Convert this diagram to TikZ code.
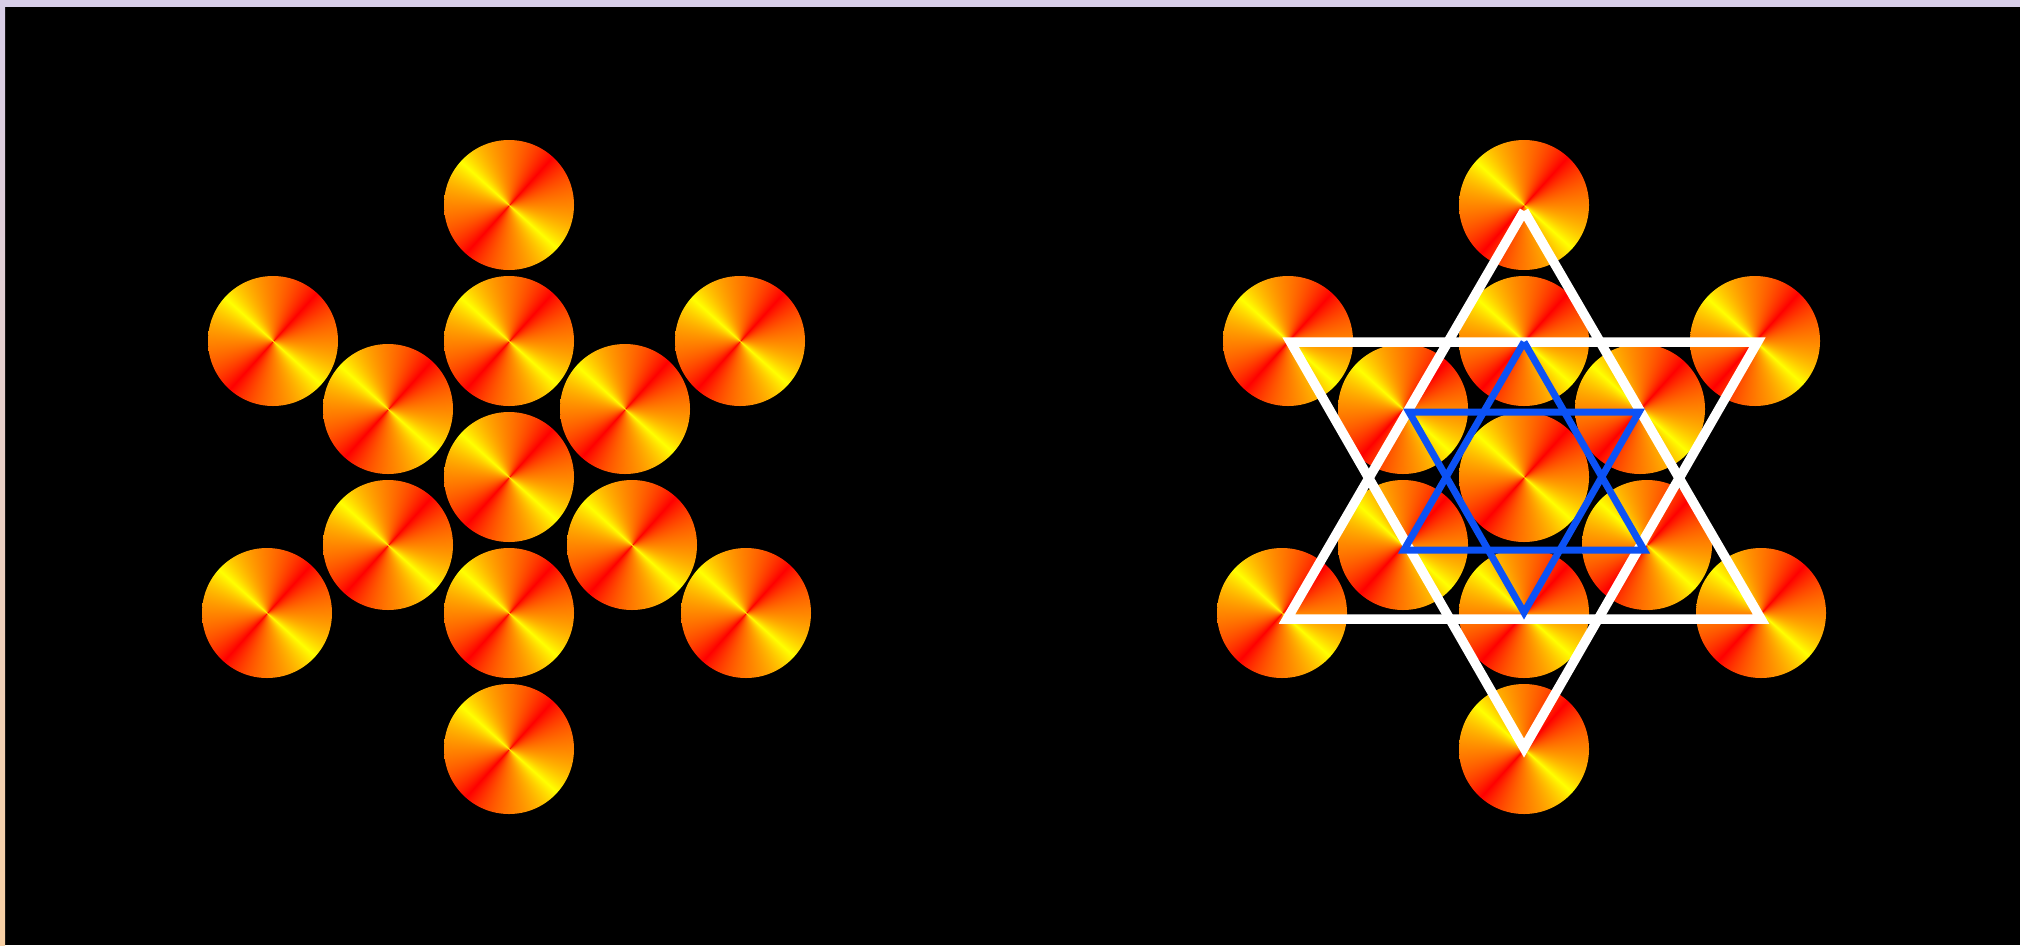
\documentclass[tikz,border=0pt]{standalone}
\pgfdeclarefunctionalshading{conicRY}{\pgfpoint{-50bp}{-50bp}}{\pgfpoint{50bp}{50bp}}{}{exch 0.0001 add atan 312 add dup 180 div floor 180 mul sub 90 sub abs 45 div 1 exch sub dup dup dup mul mul 0.15 mul exch 0.35 mul add 0.5 add 1 exch 0}
\definecolor{lavtop}{RGB}{216,206,232}
\definecolor{lavblue}{RGB}{206,206,255}
\definecolor{peach}{RGB}{248,208,164}
\definecolor{starblue}{RGB}{12,82,245}
\tikzset{
  ball/.style={shading=conicRY},
  bigstar/.style={draw=white, line width=9.5, line join=miter},
  smallstar/.style={draw=starblue, line width=7, line join=miter}
}
\begin{document}
\begin{tikzpicture}[x=1pt,y=-1pt]
\useasboundingbox (0,0) rectangle (2020,945);
\fill[black] (0,0) rectangle (2020,945);
\shade[top color=lavtop, middle color=lavblue, bottom color=peach] (0,0) rectangle (5,945);
\fill[lavtop] (0,0) rectangle (2020,7);
% circles, left figure and the same set shifted for the right figure
\foreach \x/\y in {509/205, 509/341, 509/477, 509/613, 509/749,
                   388/409, 625/409, 388/545, 632/545,
                   273/341, 740/341, 267/613, 746/613}{
  \shade[ball] (\x,\y) circle[radius=65];
  \shade[ball] (\x+1015,\y) circle[radius=65];
}
% white star
\path[bigstar] (1524,211) -- (1287,619) -- (1761,619) -- (1524,211);
\path[bigstar] (1290.5,342) -- (1757.5,342) -- (1524,748) -- cycle;
% blue star
\path[smallstar] (1524,342) -- (1404,550) -- (1644,550) -- (1524,342);
\path[smallstar] (1409,412) -- (1639,412) -- (1524,612.5) -- cycle;
\end{tikzpicture}
\end{document}
